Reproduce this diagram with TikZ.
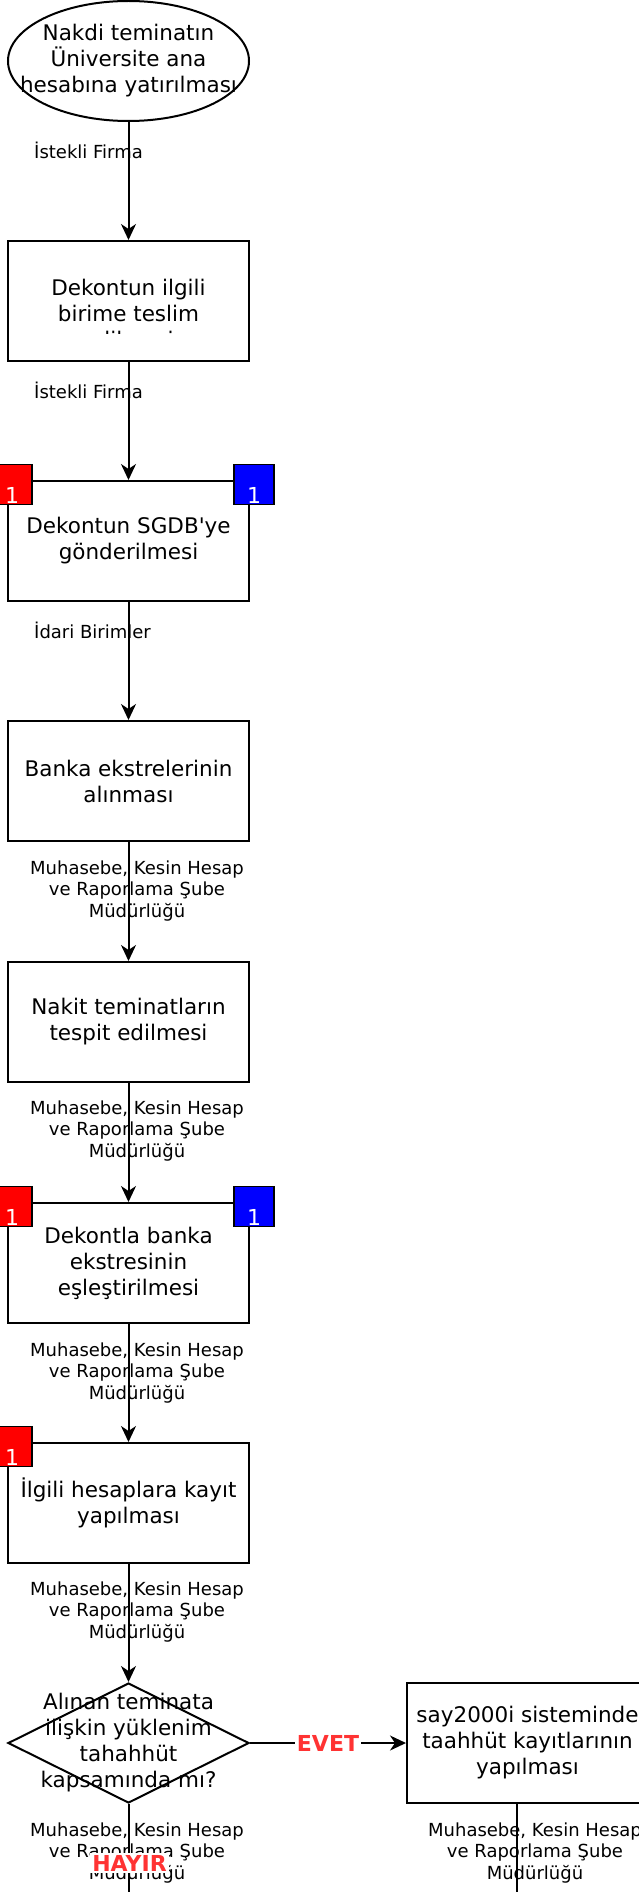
\documentclass[tikz,border=0pt]{standalone}
\usepackage{fontspec}
\setmainfont{DejaVu Sans}
\usetikzlibrary{arrows.meta,shapes.geometric}
\definecolor{evetred}{HTML}{FF3333}
\newcommand{\boxfont}{\fontsize{21.5}{26}\selectfont}
\newcommand{\lblfont}{\fontsize{18}{21.5}\selectfont}
\tikzset{
    stepbox/.style={draw, line width=2pt, minimum width=241pt, minimum height=120pt, inner sep=0pt}, % kutular
    startshape/.style={stepbox, ellipse},
    decision/.style={stepbox, diamond},
    boxtext/.style={align=center, font=\boxfont, inner sep=0pt},
    edgelabel/.style={align=center, font=\lblfont, inner sep=0pt},
    flag/.style={draw, line width=1.6pt, minimum size=40pt, inner sep=0pt},
    flagnum/.style={anchor=south, text=white, font=\fontsize{22}{22}\selectfont, inner sep=2pt},
    yesno/.style={text=evetred, font=\fontsize{22}{22}\bfseries\selectfont, fill=white, inner sep=2pt},
    flow/.style={line width=2pt, -{Stealth[length=16pt, width=15pt, inset=5pt]}},
    plain/.style={line width=2pt}
}

\begin{document}
\begin{tikzpicture}[x=1pt, y=-1pt]
    \def\colx{128.5}
    \useasboundingbox (0,0) rectangle (639,1892);

    % adimlar
    \node[startshape] (start) at (\colx,61) {};
    \node[boxtext] (starttxt) at (start) {Nakdi teminatın\\Üniversite ana\\hesabına yatırılması};
    \node[stepbox] (dek1) at (\colx,301) {};
    \begin{scope}
        \clip (8,241) rectangle (249,333);
        \node[boxtext] (dek1txt) at (\colx,313) {Dekontun ilgili\\birime teslim\\edilmesi};
    \end{scope}
    \node[stepbox, boxtext] (sgdb) at (\colx,541) {Dekontun SGDB\textquotesingle ye\\gönderilmesi};
    \node[stepbox, boxtext] (banka) at (\colx,781) {Banka ekstrelerinin\\alınması};
    \node[stepbox, boxtext] (nakit) at (\colx,1022) {Nakit teminatların\\tespit edilmesi};
    \node[stepbox, boxtext] (esle) at (\colx,1263) {Dekontla banka\\ekstresinin\\eşleştirilmesi};
    \node[stepbox, boxtext] (kayit) at (\colx,1503) {İlgili hesaplara kayıt\\yapılması};
    \node[decision] (karar) at (\colx,1743) {};
    \node[boxtext] (karartxt) at (karar) {Alınan teminata\\ilişkin yüklenim\\tahahhüt\\kapsamında mı?};
    \node[stepbox, boxtext] (say) at (527.5,1743) {say2000i sisteminde\\taahhüt kayıtlarının\\yapılması};

    % kirmizi ve mavi isaretler
    \node[flag, fill=red] (sgdbred) at ([shift={(5,4.5)}]sgdb.north west) {};
    \node[flagnum] at (sgdbred.south) {1};
    \node[flag, fill=blue] (sgdbblue) at ([shift={(4,4.5)}]sgdb.north east) {};
    \node[flagnum] at (sgdbblue.south) {1};
    \node[flag, fill=red] (eslered) at ([shift={(5,4.5)}]esle.north west) {};
    \node[flagnum] at (eslered.south) {1};
    \node[flag, fill=blue] (esleblue) at ([shift={(4,4.5)}]esle.north east) {};
    \node[flagnum] at (esleblue.south) {1};
    \node[flag, fill=red] (kayitred) at ([shift={(5,4.5)}]kayit.north west) {};
    \node[flagnum] at (kayitred.south) {1};

    % sorumlular
    \node[edgelabel, anchor=west] (lbl1) at (34,150) {İstekli Firma};
    \node[edgelabel, anchor=west] (lbl2) at (34,390) {İstekli Firma};
    \node[edgelabel, anchor=west] (lbl3) at (34,630) {İdari Birimler};
    \node[edgelabel] (lbl4) at (137,891) {Muhasebe, Kesin Hesap\\ve Raporlama Şube\\Müdürlüğü};
    \node[edgelabel] (lbl5) at (137,1131) {Muhasebe, Kesin Hesap\\ve Raporlama Şube\\Müdürlüğü};
    \node[edgelabel] (lbl6) at (137,1373) {Muhasebe, Kesin Hesap\\ve Raporlama Şube\\Müdürlüğü};
    \node[edgelabel] (lbl7) at (137,1612) {Muhasebe, Kesin Hesap\\ve Raporlama Şube\\Müdürlüğü};
    \node[edgelabel] (lbl8) at (137,1853) {Muhasebe, Kesin Hesap\\ve Raporlama Şube\\Müdürlüğü};
    \node[edgelabel] (lbl9) at (535,1853) {Muhasebe, Kesin Hesap\\ve Raporlama Şube\\Müdürlüğü};

    % akis
    \draw[flow] (start) -- (dek1);
    \draw[flow] (dek1) -- (sgdb);
    \draw[flow] (sgdb) -- (banka);
    \draw[flow] (banka) -- (nakit);
    \draw[flow] (nakit) -- (esle);
    \draw[flow] (esle) -- (kayit);
    \draw[flow] (kayit) -- (karar);
    \draw[flow] (karar) -- node[yesno] (evet) {EVET} (say);
    \coordinate (hayirend) at (\colx,1900);
    \draw[plain] (karar) -- (hayirend);
    \node[yesno] (hayir) at (129.5,1863) {HAYIR};
    \coordinate (sayend) at (517,1900);
    \draw[plain] (say.south -| sayend) -- (sayend);
\end{tikzpicture}
\end{document}
